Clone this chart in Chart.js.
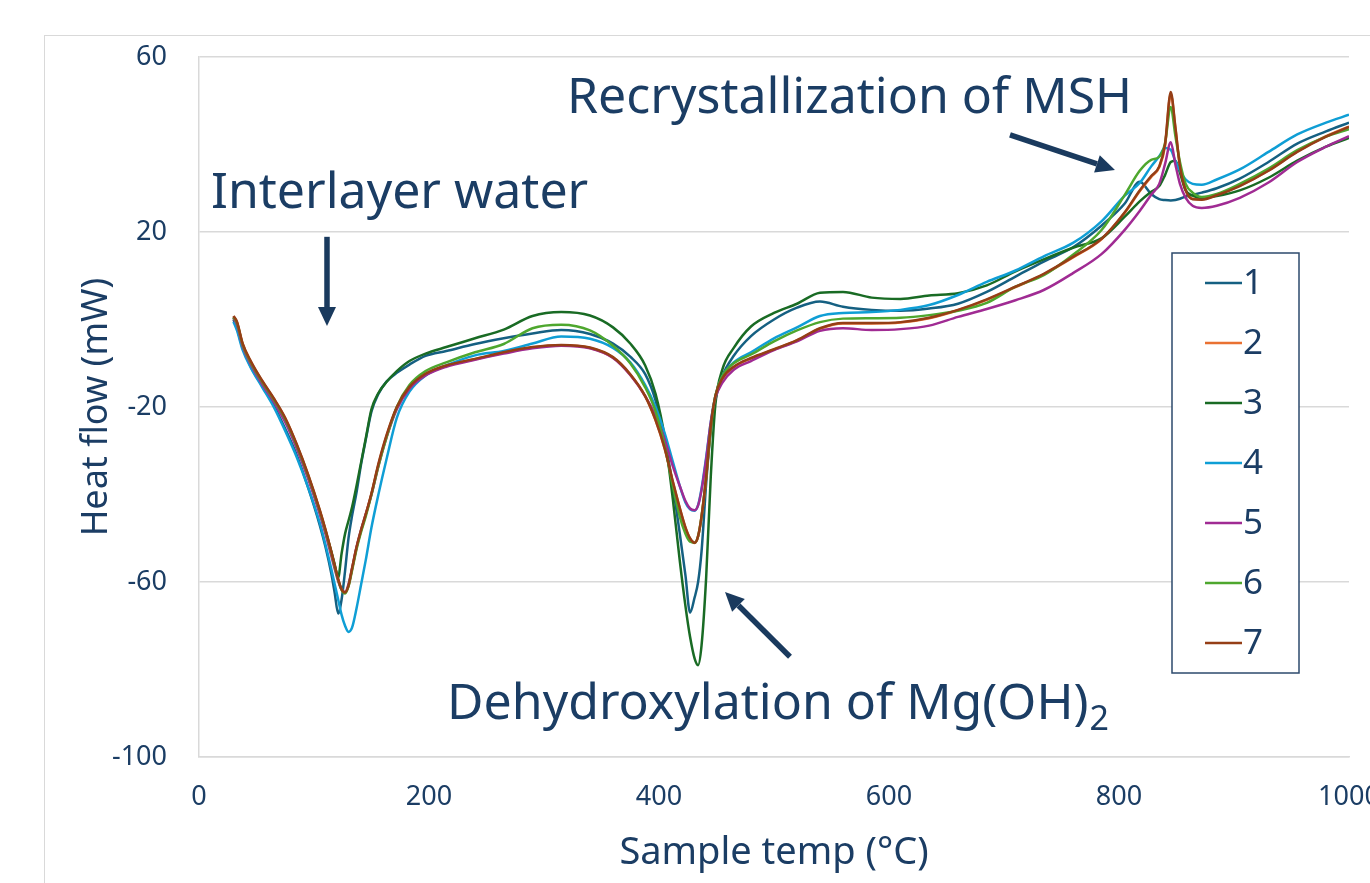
<!DOCTYPE html>
<html>
<head>
<meta charset="utf-8">
<title>DSC heat flow</title>
<script src="https://cdn.jsdelivr.net/npm/chart.js@4.4.1/dist/chart.umd.min.js"></script>
<style>
    html, body { margin: 0; padding: 0; background: #ffffff; overflow: hidden; }
    #frame {
        position: absolute; left: 44px; top: 35px;
        width: 1420px; height: 900px;
        border: 1.5px solid #d9d9d9;
    }
    #wrap { position: absolute; left: 0; top: 0; }
</style>
</head>
<body>
<div id="frame"></div>
<div id="wrap"><canvas id="dscChart" width="1420" height="900"></canvas></div>
<script>
// =========================
// DATA
// =========================
const temps = [
    30, 33, 38, 45, 55, 65, 75, 85, 95, 105,
    110, 115, 118, 121, 124, 127, 130, 133, 137, 141,
    145, 150, 156, 163, 172, 183, 197, 215, 240, 265,
    290, 315, 340, 360, 375, 388, 397, 405, 412, 418,
    423, 427, 431, 434, 437, 441, 445, 449, 455, 465,
    480, 500, 520, 540, 560, 585, 610, 635, 660, 685,
    710, 735, 760, 785, 805, 818, 828, 835, 840, 845,
    849, 853, 858, 864, 872, 885, 905, 930, 955, 980, 1000
];

const flow1 = [
    0, -2, -6.5, -10.8, -15.2, -19.6, -25, -31, -38.5, -47,
    -52, -58, -62.5, -67.2, -64, -57.5, -50, -45, -39.5, -33,
    -27.5, -21, -17, -14.2, -12.2, -10.3, -8.3, -7.2, -5.6, -4.3,
    -3.2, -2.4, -3.3, -5.5, -8.5, -12.5, -18.5, -27.5, -38, -48.8,
    -58.5, -67, -63.5, -60, -53, -37.5, -25.5, -18.4, -13, -8.3,
    -3.8, 0, 2.7, 4.1, 2.9, 2.2, 2.0, 2.5, 3.6, 6.3,
    9.8, 13.3, 16.5, 21.5, 26.5, 31.5, 28.7, 27.5, 27.3, 27.2,
    27.3, 27.6, 28.1, 28.5, 29, 30, 32.2, 36, 40.2, 43, 45
];

const flow2 = [
    0.7, -0.6, -5.6, -9.6, -14.1, -18.1, -22.6, -28.6, -35.6, -43.6,
    -48.1, -53.1, -56.3, -59.4, -61.7, -62.4, -60.9, -57.2, -52.2, -48.2,
    -44.6, -39.8, -33.2, -26.7, -20.2, -15.5, -12.5, -10.6, -9.1, -7.6,
    -6.4, -5.9, -6.5, -8.7, -12.6, -17.6, -23, -29.6, -37.1, -43.1,
    -47.6, -50.1, -51.1, -49.6, -45.1, -36.2, -24.7, -17.6, -13.6, -10.9,
    -8.9, -6.9, -4.8, -2.1, -0.9, -0.9, -0.7, 0.3, 2.1, 4.5,
    7.4, 10.4, 14.2, 18.4, 24.4, 29.3, 32.6, 34.8, 39.6, 51.5,
    43.8, 35.1, 29.6, 27.6, 27.5, 28.5, 30.6, 34.1, 38.4, 41.9, 44.1
];

const flow3 = [
    0.5, -1, -6, -10, -14.5, -18.5, -23, -29, -36, -44,
    -48.5, -53, -56, -59, -53.5, -49, -46, -43, -38, -32.6,
    -27.2, -20.5, -16.8, -14.3, -11.8, -9.5, -7.8, -6.3, -4.3, -2.3,
    0.8, 1.7, 0.9, -1.8, -5.5, -10.5, -17, -27, -41, -55,
    -65.5, -72.5, -77.5, -79, -74.5, -59, -36, -19.5, -11.5, -6.5,
    -1.6, 1.5, 3.6, 6.1, 6.3, 5, 4.7, 5.5, 6, 7.8,
    11, 13.8, 16.4, 18.6, 23.5, 27, 29.2, 30.5, 33, 36,
    36.3, 33.5, 29.5, 28.3, 27.8, 28.2, 29.5, 32.4, 36.3, 39.5, 41.5
];

const flow4 = [
    -0.5, -2.5, -7, -11, -15.5, -20, -25.5, -31.5, -38.5, -46.5,
    -51.5, -57, -60.5, -64, -67.5, -70, -71.4, -70.5, -66, -60.5,
    -55, -47.5, -40, -32, -22.5, -16.5, -12.8, -10.5, -8.2, -7.2,
    -5.5, -3.9, -4.4, -6.5, -9.8, -15, -20, -26, -32.5, -38,
    -41.8, -43.4, -43.7, -42.4, -38.6, -31.5, -23.5, -17.5, -13, -9.8,
    -7.5, -4.3, -1.8, 0.8, 1.5, 1.7, 2.2, 3.3, 5.6, 8.6,
    11.2, 14.5, 17.5, 22.5, 28.3, 31.2, 35, 37.3, 39.2, 38.8,
    36.2, 34, 32, 31, 30.8, 32, 34.3, 38.3, 42.3, 45, 46.8
];

const flow5 = [
    0.3, -1.2, -6.2, -10.2, -14.8, -18.8, -23.5, -29.5, -36.5, -44.5,
    -49, -54, -57, -59.8, -61.7, -62.3, -60.5, -57, -52, -48,
    -44.5, -40, -33.5, -27, -20.5, -15.8, -12.8, -10.8, -9.2, -7.8,
    -6.6, -6, -6.6, -8.8, -12.7, -17.5, -22, -27.5, -33.5, -38,
    -41.5, -43.2, -43.6, -42.5, -39, -32, -23.5, -18, -14.5, -11.5,
    -9.5, -7, -5, -2.6, -2, -2.4, -2.2, -1.4, 0.6, 2.4,
    4.4, 6.8, 10.6, 15, 20.5, 24.8, 28.5, 31, 35.5, 40.5,
    35.5, 31, 27.8, 26, 25.5, 26, 27.8, 31.3, 36, 39.5, 41.9
];

const flow6 = [
    0.5, -0.8, -5.8, -9.8, -14.3, -18.3, -22.8, -28.8, -35.8, -43.8,
    -48.3, -53.3, -56.5, -59.5, -61.8, -62.6, -61, -57.5, -52.5, -48.5,
    -45, -40, -33.5, -27, -20, -15, -11.8, -9.8, -7.5, -5.6,
    -2, -1.2, -2.5, -6, -10, -15.5, -21, -29, -38, -45,
    -49, -50.8, -51, -49.5, -45, -36, -25, -17.5, -13, -10,
    -8, -5, -2.5, -0.6, 0.2, 0.3, 0.4, 1, 2, 3.8,
    7.5, 10.2, 14.8, 20.5, 28.5, 34, 36.5, 37.2, 40.3, 48.6,
    42, 36, 31, 29, 28, 28.7, 31, 34.5, 38.7, 41.8, 43.5
];

const flow7 = [
    0.8, -0.5, -5.5, -9.5, -14, -18, -22.5, -28.5, -35.5, -43.5,
    -48, -53, -56.2, -59.3, -61.7, -62.4, -60.8, -57, -52, -48,
    -44.5, -39.7, -33, -26.5, -20, -15.4, -12.4, -10.5, -9, -7.5,
    -6.3, -5.8, -6.4, -8.6, -12.5, -17.5, -23, -29.5, -37, -43,
    -47.5, -50, -51, -49.5, -45, -36, -24.5, -17.5, -13.5, -10.8,
    -8.8, -6.8, -4.7, -2, -0.8, -0.8, -0.6, 0.4, 2.2, 4.6,
    7.5, 10.5, 14.3, 18.5, 24.5, 29.5, 32.8, 35, 40, 52,
    44, 35, 29.5, 27.5, 27.4, 28.4, 30.5, 34, 38.3, 41.8, 44
];

const seriesNames = ["1", "2", "3", "4", "5", "6", "7"];
const seriesFlows = [flow1, flow2, flow3, flow4, flow5, flow6, flow7];
const seriesColors = ["#156082", "#E97132", "#196B24", "#0F9ED5", "#A02B93", "#4EA72E", "#953E16"];

const xTicks = [0, 200, 400, 600, 800, 1000];
const yTicks = [-100, -60, -20, 20, 60];

// =========================
// LOOK
// =========================
const FONT = '"Noto Sans", "DejaVu Sans", sans-serif';
const INK = "#1b3d64";
const ARROW_INK = "#1a3a5e";
const GRID = "#d9d9d9";

// notes and arrows placed in data units (°C, mW)
const notes = [
    { text: "Interlayer water", x: 10.4, y: 25.5 },
    { text: "Recrystallization of MSH", x: 320, y: 47.2 },
    { text: "Dehydroxylation of Mg(OH)", sub: "2", x: 215.7, y: -91.3 }
];
const arrows = [
    { from: [111.3, 18.9], to: [111.3, -1.5] },
    { from: [705.2, 42.2], to: [796.5, 34.2] },
    { from: [513.9, -77.1], to: [457.4, -62.3] }
];

// =========================
// PLUGINS
// =========================
const notesPlugin = {
    id: "notes",
    afterDatasetsDraw(chart) {
        const { ctx } = chart;
        const xs = chart.scales.x, ys = chart.scales.y;
        ctx.save();

        // arrows
        ctx.strokeStyle = ARROW_INK;
        ctx.fillStyle = ARROW_INK;
        arrows.forEach(a => {
            const x0 = xs.getPixelForValue(a.from[0]), y0 = ys.getPixelForValue(a.from[1]);
            const x1 = xs.getPixelForValue(a.to[0]), y1 = ys.getPixelForValue(a.to[1]);
            const ang = Math.atan2(y1 - y0, x1 - x0);
            const headLen = 19, headHalf = 9;
            const bx = x1 - headLen * Math.cos(ang), by = y1 - headLen * Math.sin(ang);
            ctx.lineWidth = 5.5;
            ctx.lineCap = "butt";
            ctx.beginPath();
            ctx.moveTo(x0, y0);
            ctx.lineTo(bx, by);
            ctx.stroke();
            ctx.beginPath();
            ctx.moveTo(x1, y1);
            ctx.lineTo(bx + headHalf * Math.sin(ang), by - headHalf * Math.cos(ang));
            ctx.lineTo(bx - headHalf * Math.sin(ang), by + headHalf * Math.cos(ang));
            ctx.closePath();
            ctx.fill();
        });

        // labels
        ctx.fillStyle = INK;
        ctx.textAlign = "left";
        ctx.textBaseline = "alphabetic";
        notes.forEach(n => {
            const px = xs.getPixelForValue(n.x), py = ys.getPixelForValue(n.y);
            ctx.font = `50px ${FONT}`;
            ctx.fillText(n.text, px, py);
            if (n.sub) {
                const w = ctx.measureText(n.text).width;
                ctx.font = `34px ${FONT}`;
                ctx.fillText(n.sub, px + w + 1, py + 11);
            }
        });
        ctx.restore();
    }
};

const boxLegendPlugin = {
    id: "boxLegend",
    afterDraw(chart) {
        const { ctx } = chart;
        const box = { left: 1172, top: 253, width: 127, height: 420 };
        const firstY = 283, step = 60;
        ctx.save();
        ctx.fillStyle = "#ffffff";
        ctx.fillRect(box.left, box.top, box.width, box.height);
        ctx.strokeStyle = "#2d4a6c";
        ctx.lineWidth = 1.5;
        ctx.strokeRect(box.left, box.top, box.width, box.height);

        ctx.font = `35px ${FONT}`;
        ctx.textAlign = "left";
        ctx.textBaseline = "middle";
        seriesNames.forEach((name, i) => {
            const y = firstY + i * step;
            ctx.strokeStyle = seriesColors[i];
            ctx.lineWidth = 2.5;
            ctx.beginPath();
            ctx.moveTo(1205, y);
            ctx.lineTo(1242, y);
            ctx.stroke();
            ctx.fillStyle = INK;
            ctx.fillText(name, 1243, y + 1);
        });
        ctx.restore();
    }
};

// =========================
// CHART
// =========================
const datasets = seriesNames.map((name, i) => ({
    label: name,
    data: temps.map((t, k) => ({ x: t, y: seriesFlows[i][k] })),
    borderColor: seriesColors[i],
    backgroundColor: seriesColors[i],
    borderWidth: 2.5,
    pointRadius: 0,
    cubicInterpolationMode: "monotone",
    fill: false,
    order: 10 - i
}));

new Chart(document.getElementById("dscChart"), {
    type: "line",
    data: { datasets },
    options: {
        responsive: false,
        animation: false,
        devicePixelRatio: 1,
        layout: { padding: { top: 57, right: 71, left: 0, bottom: 0 } },
        plugins: {
            legend: { display: false },
            tooltip: { enabled: false }
        },
        scales: {
            x: {
                type: "linear",
                min: 0,
                max: 1000,
                afterBuildTicks: s => { s.ticks = xTicks.map(v => ({ value: v })); },
                afterFit: s => { s.height = 143; },
                ticks: {
                    color: INK,
                    font: { family: FONT, size: 27 },
                    padding: 24,
                    maxRotation: 0,
                    callback: v => String(v)
                },
                grid: { display: false, drawTicks: false },
                border: { color: GRID, width: 1.5 },
                title: {
                    display: true,
                    text: "Sample temp (°C)",
                    color: INK,
                    font: { family: FONT, size: 38 },
                    padding: { top: 0, bottom: 24 }
                }
            },
            y: {
                min: -100,
                max: 60,
                afterBuildTicks: s => { s.ticks = yTicks.map(v => ({ value: v })); },
                afterFit: s => { s.width = 199; },
                ticks: {
                    color: INK,
                    font: { family: FONT, size: 27 },
                    padding: 32,
                    callback: v => String(v)
                },
                grid: { color: GRID, lineWidth: 1.5, drawTicks: false },
                border: { color: GRID, width: 1.5 },
                title: {
                    display: true,
                    text: "Heat flow (mW)",
                    color: INK,
                    font: { family: FONT, size: 36 },
                    padding: { top: 75, bottom: 0 }
                }
            }
        }
    },
    plugins: [notesPlugin, boxLegendPlugin]
});
</script>
</body>
</html>
